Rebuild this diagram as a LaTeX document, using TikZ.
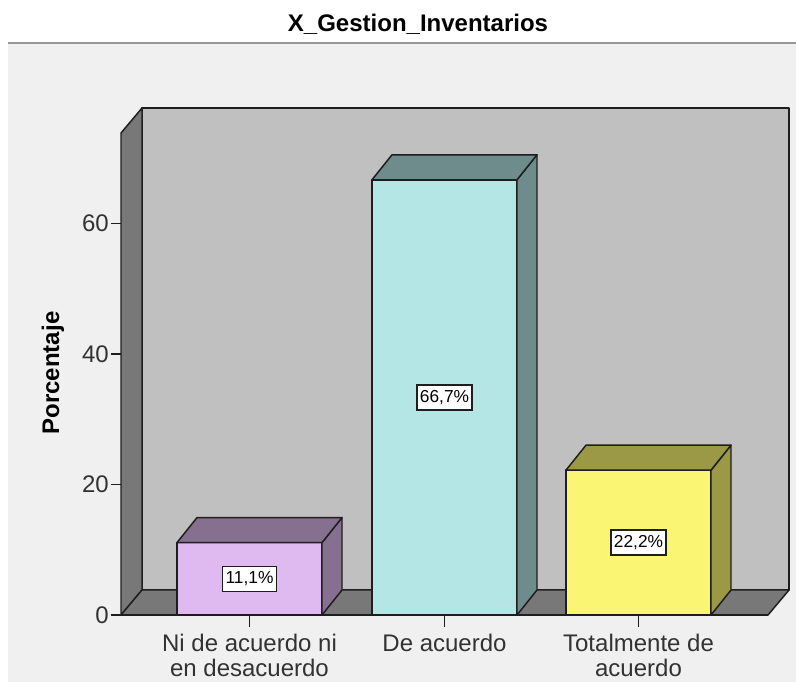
\documentclass[tikz,border=0pt]{standalone}
\usepackage{fontspec}
\setmainfont{Liberation Sans}
\usetikzlibrary{calc}

\definecolor{panel}{RGB}{240,240,240}
\definecolor{rulegray}{RGB}{150,150,150}
\definecolor{wallback}{RGB}{192,192,192}
\definecolor{wallside}{RGB}{120,120,120}
\definecolor{edgegray}{RGB}{30,30,30}
\definecolor{textgray}{RGB}{50,50,50}
\definecolor{frontlila}{RGB}{222,186,240}
\definecolor{sidelila}{RGB}{133,112,143}
\definecolor{frontagua}{RGB}{180,230,230}
\definecolor{sideagua}{RGB}{110,140,140}
\definecolor{frontlimon}{RGB}{250,245,115}
\definecolor{sidelimon}{RGB}{155,152,70}

\begin{document}
\begin{tikzpicture}[x=0.75pt,y=-0.75pt,
    edge/.style={draw=edgegray,line width=1.1pt,line join=round},
    valbox/.style={draw=edgegray,fill=white,line width=1.1pt,
      inner xsep=2.2pt,inner ysep=4pt,
      font=\fontsize{13}{14}\selectfont},
    ticklbl/.style={text=textgray,anchor=east,inner sep=0pt,
      font=\fontsize{18}{20}\selectfont},
    catlbl/.style={text=textgray,anchor=north,align=center,inner sep=0pt,
      font=\fontsize{18}{18.75}\selectfont}]
  \def\dx{21}
  \def\dy{25}
  \def\scl{6.525}

  \useasboundingbox (0,0) rectangle (796,682);

  % panel and title
  \fill [panel] (8,43) rectangle (796,682);
  \draw [rulegray,line width=1.5pt] (8,43) -- (796,43);
  \node [font=\bfseries\fontsize{18}{20}\selectfont] (title) at (418,24)
    {X\_Gestion\_Inventarios};

  % the box the bars stand in
  \coordinate (O) at (121,615);
  \coordinate (Ob) at ($ (O) + (\dx,-\dy) $);
  \coordinate (top) at (121,133);
  \coordinate (end) at (768,615);
  \fill [wallback,edge] (Ob) -- ($ (top) + (\dx,-\dy) $)
    -- ($ (end |- top) + (\dx,-\dy) $) -- ($ (end) + (\dx,-\dy) $) -- cycle;
  \fill [wallside,edge] (O) -- (top) -- ($ (top) + (\dx,-\dy) $) -- (Ob) -- cycle;
  \fill [wallside,edge] (O) -- (Ob) -- ($ (end) + (\dx,-\dy) $) -- (end) -- cycle;
  \draw [edge] (O) -- (end);

  % y axis
  \foreach \v in {0,20,40,60}{
    \draw [edge] ($ (O) + (0,-\scl*\v) $) -- ++(-10,0) coordinate (t\v);
    \node [ticklbl] (y\v) at ($ (t\v) + (-2,0) $) {\v};
  }
  \node [rotate=90,font=\bfseries\fontsize{18}{20}\selectfont] (ylabel)
    at (53,373) {Porcentaje};

  % the bars
  \foreach \bar/\xl/\val/\lbl/\col in {a/177/11.1/{11,1\%}/lila,
      b/372/66.7/{66,7\%}/agua, c/566/22.2/{22,2\%}/limon}{
    \pgfmathsetmacro\ytop{615-\scl*\val}
    \pgfmathsetmacro\xr{\xl+145}
    \coordinate (\bar-bl) at (\xl,615);
    \coordinate (\bar-tl) at (\xl,\ytop);
    \coordinate (\bar-tr) at (\xr,\ytop);
    \coordinate (\bar-br) at (\xr,615);
    \fill [front\col,edge] (\bar-bl) rectangle (\bar-tr);
    \fill [side\col,edge] (\bar-br) -- (\bar-tr) -- ++(20,-\dy)
      -- ($ (\bar-br) + (20,-\dy) $) -- cycle;
    \fill [side\col,edge] (\bar-tl) -- ++(20,-\dy) -- ++(145,0)
      -- (\bar-tr) -- cycle;
    \node [valbox] (v-\bar) at ($ (\bar-bl)!0.5!(\bar-tr) $) {\lbl};
    \draw [edge] ($ (\bar-bl)!0.5!(\bar-br) $) coordinate (\bar-tick) -- ++(0,12);
  }

  % category labels
  \node [catlbl] (cat-a) at ($ (a-tick) + (0,19) $) {Ni de acuerdo ni\\en desacuerdo};
  \node [catlbl] (cat-b) at ($ (b-tick) + (0,19) $) {De acuerdo};
  \node [catlbl] (cat-c) at ($ (c-tick) + (0,19) $) {Totalmente de\\acuerdo};
\end{tikzpicture}
\end{document}
